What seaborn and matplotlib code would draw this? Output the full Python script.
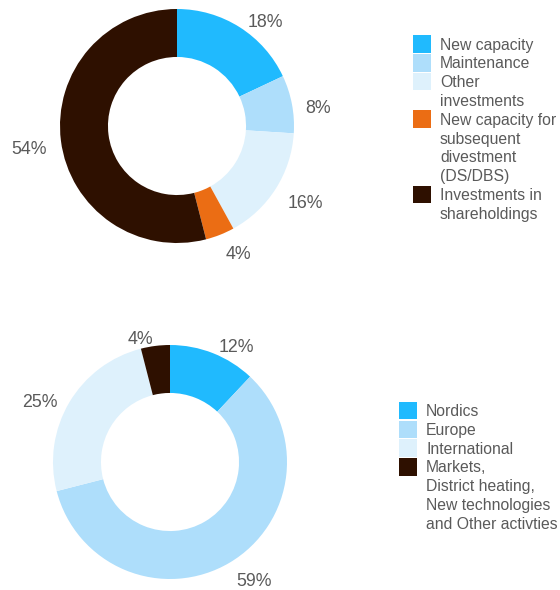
import matplotlib
matplotlib.use('Agg')
import matplotlib.pyplot as plt
from matplotlib.patches import Rectangle
import seaborn as sns

# ── Data ─────────────────────────────────────────────────────
top_labels = ['New capacity', 'Maintenance', 'Other\ninvestments',
              'New capacity for\nsubsequent\ndivestment\n(DS/DBS)',
              'Investments in\nshareholdings']
top_values = [18, 8, 16, 4, 54]
top_colors = ['#20BAFE', '#AEDEFB', '#DEF1FC', '#EB6D14', '#2E1000']

bottom_labels = ['Nordics', 'Europe', 'International',
                 'Markets,\nDistrict heating,\nNew technologies\nand Other activties']
bottom_values = [12, 59, 25, 4]
bottom_colors = ['#20BAFE', '#AEDEFB', '#DEF1FC', '#2E1000']

# ── Style ────────────────────────────────────────────────────
sns.set_style('white')
plt.rcParams['font.family'] = ['Liberation Sans', 'DejaVu Sans']
grey = '#5A5A5A'

W, H = 560, 590
fig = plt.figure(figsize=(W / 100, H / 100), dpi=100)
R = 117  # donut outer radius in px


def donut(cx, cy, values, colors):
    ax = fig.add_axes([(cx - R) / W, (H - cy - R) / H, 2 * R / W, 2 * R / H])
    wedges, texts = ax.pie(values, colors=colors,
                           labels=[f'{v}%' for v in values],
                           startangle=90, counterclock=False,
                           labeldistance=1.12,
                           wedgeprops=dict(width=0.41, linewidth=0),
                           textprops=dict(fontsize=12.8, color=grey))
    # labels sit a little lower in the original
    for t in texts:
        x, y = t.get_position()
        t.set_position((x, y - 0.06))
    ax.set_xlim(-1, 1)
    ax.set_ylim(-1, 1)
    ax.axis('off')
    return ax


def legend(labels, colors, x_box, x_text, y0, step=18.8, box=17.5):
    line = 0
    for lab, col in zip(labels, colors):
        yc = y0 + line * step
        fig.add_artist(Rectangle((x_box / W, 1 - (yc + box / 2) / H),
                                 box / W, box / H, color=col,
                                 transform=fig.transFigure, linewidth=0))
        for part in lab.split('\n'):
            yl = y0 + line * step
            fig.text(x_text / W, 1 - (yl + 5.7) / H, part, fontsize=11.3,
                     color=grey, ha='left', va='baseline')
            line += 1


donut(177, 126, top_values, top_colors)
donut(170, 462, bottom_values, bottom_colors)

legend(top_labels, top_colors, 413, 440, 44)
legend(bottom_labels, bottom_colors, 399, 426, 410.7, step=18.7)

plt.savefig('out.png', dpi=100)
